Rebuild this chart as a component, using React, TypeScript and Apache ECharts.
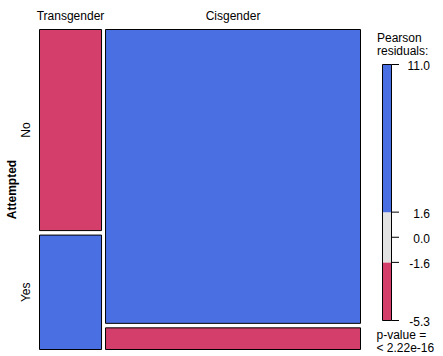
import React, { useEffect, useRef } from "react";
import * as echarts from "echarts";

// ---- data ----
const genders = ["Transgender", "Cisgender"];
const attempted = ["No", "Yes"];
const countsTransgender = [174, 99]; // No, Yes
const countsCisgender = [1045, 77]; // No, Yes
const varName = "Attempted";
const legendBreaks = [-5.3, -1.6, 1.6, 11.0];
const legendTicks = [11.0, 1.6, 0.0, -1.6, -5.3];
const legendTickLabels = ["11.0", "1.6", "0.0", "-1.6", "-5.3"];
const legendTitle = ["Pearson", "residuals:"];
const pValueLines = ["p-value =", "< 2.22e-16"];

const BLUE = "#4A6FE3";
const RED = "#D33F6A";
const GRAY = "#E2E2E2";
const FONT = '"Liberation Sans", Arial, sans-serif';

function shade(r: number) {
  if (r > legendBreaks[2]) return BLUE;
  if (r < legendBreaks[1]) return RED;
  return GRAY;
}

export default function App() {
  const ref = useRef<HTMLDivElement>(null);
  useEffect(() => {
    document.body.style.margin = "0";
    const chart = echarts.init(ref.current!, null, { renderer: "svg" });

    const counts = [countsTransgender, countsCisgender];
    const colTotals = counts.map((c) => c[0] + c[1]);
    const N = colTotals.reduce((a, b) => a + b, 0);
    const rowTotals = attempted.map((_, i) => counts.reduce((s, c) => s + c[i], 0));
    const GX = 4 / 321;
    const GY = 4.5 / 320;
    const cells: number[][] = [];
    const colCenters: number[][] = [];
    let x = 0;
    counts.forEach((c, j) => {
      const w = (colTotals[j] / N) * (1 - GX);
      colCenters.push([x + w / 2, j]);
      let y = 0;
      c.forEach((v, i) => {
        const h = (v / colTotals[j]) * (1 - GY);
        const E = (colTotals[j] * rowTotals[i]) / N;
        const r = (v - E) / Math.sqrt(E);
        cells.push([x, x + w, y, y + h, r, j, i]);
        y += h + GY;
      });
      x += w + GX;
    });
    const rowLabelData = cells.filter((c) => c[5] === 0).map((c) => [(c[2] + c[3]) / 2, c[6]]);

    const segs: number[][] = [];
    for (let k = 0; k < legendBreaks.length - 1; k++) {
      segs.push([legendBreaks[k], legendBreaks[k + 1], (legendBreaks[k] + legendBreaks[k + 1]) / 2]);
    }

    const option: any = {
      animation: false,
      backgroundColor: "#ffffff",
      grid: [
        { left: 39.5, top: 29.5, width: 321, height: 320, show: false },
        { left: 382.5, top: 64.5, width: 9, height: 256, show: false },
      ],
      xAxis: [
        { type: "value", min: 0, max: 1, show: false, gridIndex: 0 },
        { type: "value", min: 0, max: 1, show: false, gridIndex: 1 },
      ],
      yAxis: [
        { type: "value", min: 0, max: 1, inverse: true, show: false, gridIndex: 0 },
        { type: "value", min: legendBreaks[0], max: legendBreaks[legendBreaks.length - 1], show: false, gridIndex: 1 },
      ],
      series: [
        {
          type: "custom",
          xAxisIndex: 0,
          yAxisIndex: 0,
          data: cells,
          renderItem: (params: any, api: any) => {
            const p0 = api.coord([api.value(0), api.value(2)]);
            const p1 = api.coord([api.value(1), api.value(3)]);
            return {
              type: "rect",
              shape: { x: p0[0], y: p0[1], width: p1[0] - p0[0], height: p1[1] - p0[1] },
              style: { fill: shade(api.value(4)), stroke: "#000", lineWidth: 1 },
            };
          },
        },
        {
          type: "custom",
          xAxisIndex: 0,
          yAxisIndex: 0,
          data: colCenters,
          renderItem: (params: any, api: any) => {
            const p = api.coord([api.value(0), 0]);
            return {
              type: "text",
              x: p[0],
              y: p[1] - 13.5,
              style: {
                text: genders[api.value(1)],
                fill: "#000",
                font: `12px ${FONT}`,
                align: "center",
                verticalAlign: "middle",
              },
            };
          },
        },
        {
          type: "custom",
          xAxisIndex: 0,
          yAxisIndex: 0,
          data: rowLabelData,
          renderItem: (params: any, api: any) => {
            const p = api.coord([0, api.value(0)]);
            return {
              type: "text",
              x: p[0] - 13.5,
              y: p[1],
              rotation: Math.PI / 2,
              style: {
                text: attempted[api.value(1)],
                fill: "#000",
                font: `12px ${FONT}`,
                align: "center",
                verticalAlign: "middle",
              },
            };
          },
        },
        {
          type: "custom",
          xAxisIndex: 1,
          yAxisIndex: 1,
          data: segs,
          renderItem: (params: any, api: any) => {
            const p0 = api.coord([0, api.value(1)]);
            const p1 = api.coord([1, api.value(0)]);
            return {
              type: "rect",
              shape: { x: p0[0], y: p0[1], width: p1[0] - p0[0], height: p1[1] - p0[1] },
              style: { fill: shade(api.value(2)), stroke: null },
            };
          },
        },
        {
          type: "custom",
          xAxisIndex: 1,
          yAxisIndex: 1,
          data: [[legendBreaks[0], legendBreaks[legendBreaks.length - 1]]],
          renderItem: (params: any, api: any) => {
            const p0 = api.coord([0, api.value(1)]);
            const p1 = api.coord([1, api.value(0)]);
            return {
              type: "rect",
              shape: { x: p0[0], y: p0[1], width: p1[0] - p0[0], height: p1[1] - p0[1] },
              style: { fill: "none", stroke: "#000", lineWidth: 1 },
            };
          },
        },
        {
          type: "custom",
          xAxisIndex: 1,
          yAxisIndex: 1,
          data: legendTicks.map((v, i) => [v, i]),
          renderItem: (params: any, api: any) => {
            const p = api.coord([1, api.value(0)]);
            return {
              type: "group",
              children: [
                {
                  type: "line",
                  shape: { x1: p[0], y1: p[1], x2: p[0] + 7.5, y2: p[1] },
                  style: { stroke: "#000", lineWidth: 1 },
                },
                {
                  type: "text",
                  x: 430,
                  y: p[1] + 1.5,
                  style: {
                    text: legendTickLabels[api.value(1)],
                    fill: "#000",
                    font: `12px ${FONT}`,
                    align: "right",
                    verticalAlign: "middle",
                  },
                },
              ],
            };
          },
        },
      ],
      graphic: [
        {
          type: "text",
          x: 12,
          y: 189.5,
          rotation: Math.PI / 2,
          style: {
            text: varName,
            fill: "#000",
            font: `bold 12px ${FONT}`,
            align: "center",
            verticalAlign: "middle",
          },
        },
        {
          type: "text",
          x: 377,
          y: 44.5,
          style: {
            text: legendTitle.join("\n"),
            fill: "#000",
            font: `12px ${FONT}`,
            lineHeight: 13.5,
            align: "left",
            verticalAlign: "middle",
          },
        },
        {
          type: "text",
          x: 376.5,
          y: 341.75,
          style: {
            text: pValueLines.join("\n"),
            fill: "#000",
            font: `12px ${FONT}`,
            lineHeight: 13,
            align: "left",
            verticalAlign: "middle",
          },
        },
      ],
    };
    chart.setOption(option);
    return () => chart.dispose();
  }, []);
  return (
    <div
      ref={ref}
      style={{ position: "fixed", left: 0, top: 0, width: 443, height: 356, background: "#fff" }}
    />
  );
}
